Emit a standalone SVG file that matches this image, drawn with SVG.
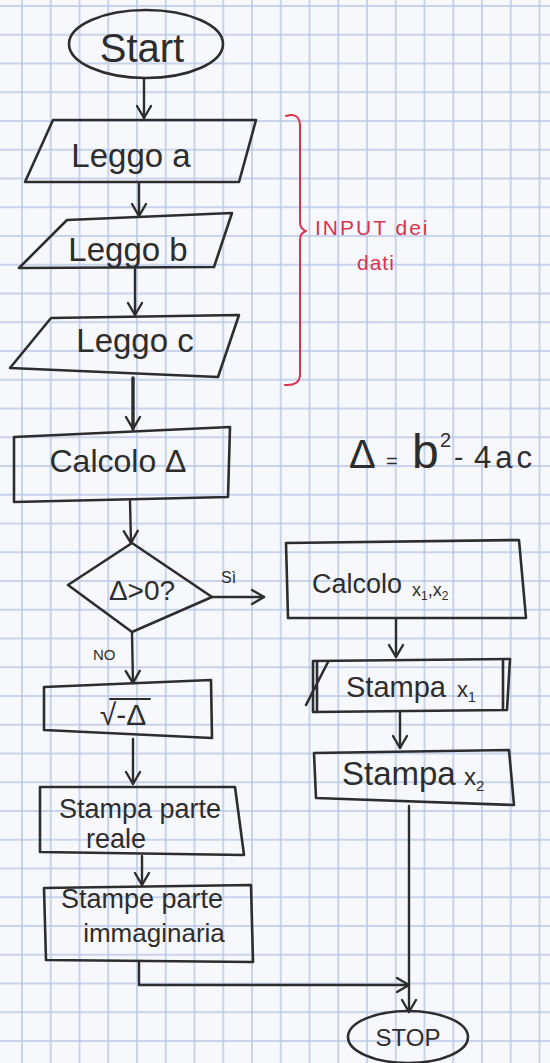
<svg xmlns="http://www.w3.org/2000/svg" width="550" height="1063" viewBox="0 0 550 1063">
<style>
.ln{fill:none;stroke:#2d2d2d;stroke-width:2.6;stroke-linejoin:round;stroke-linecap:round}
.cn{fill:none;stroke:#2d2d2d;stroke-width:2.4;stroke-linecap:round;stroke-linejoin:round}
.t{font-family:"Liberation Sans","DejaVu Sans",sans-serif;fill:#2d2d2d}
.red{font-family:"Liberation Sans","DejaVu Sans",sans-serif;fill:#d9334d}
.rl{fill:none;stroke:#d9334d;stroke-width:2;stroke-linecap:round;stroke-linejoin:round}
</style>
<defs>
<pattern id="grid" x="21" y="5" width="28.75" height="28.75" patternUnits="userSpaceOnUse">
<path d="M0,1 H28.75 M1,0 V28.75" stroke="#b9c7e7" stroke-width="1.5" fill="none"/>
</pattern>
<marker id="ah" markerUnits="userSpaceOnUse" markerWidth="18" markerHeight="18" refX="15" refY="9" orient="auto">
<path d="M3,2 L15,9 L3,16" fill="none" stroke="#2d2d2d" stroke-width="2.4" stroke-linecap="round" stroke-linejoin="round"/>
</marker>
</defs>
<rect x="0" y="0" width="550" height="1063" fill="#f7f8fc"/>
<rect x="0" y="0" width="550" height="1063" fill="url(#grid)"/>

<g id="connectors">
<path class="cn" d="M144,79 L144,118" marker-end="url(#ah)"/>
<path class="cn" d="M139,183 L139,216" marker-end="url(#ah)"/>
<path class="cn" d="M135,269 L135,315" marker-end="url(#ah)"/>
<path class="cn" d="M133,378 L133,429" marker-end="url(#ah)" style="stroke-width:3.4"/>
<path class="cn" d="M130,501 L131,543" marker-end="url(#ah)"/>
<path class="cn" d="M212,597 L264,597" marker-end="url(#ah)"/>
<path class="cn" d="M132,633 L133,683" marker-end="url(#ah)"/>
<path class="cn" d="M396,619 L396,657" marker-end="url(#ah)"/>
<path class="cn" d="M400,711 L400,748" marker-end="url(#ah)"/>
<path class="cn" d="M133,739 L133,784" marker-end="url(#ah)"/>
<path class="cn" d="M142,856 L142,885" marker-end="url(#ah)"/>
<path class="cn" d="M139,962 L139,985 L409,985" marker-end="url(#ah)"/>
<path class="cn" d="M409,806 L409,1012" marker-end="url(#ah)"/>
<text class="t" x="221" y="583" font-size="16">Sì</text>
<text class="t" x="93" y="660" font-size="15">NO</text>
</g>

<g id="start">
<ellipse class="ln" cx="146" cy="44" rx="77" ry="34"/>
<text class="t" x="142" y="62" font-size="40" text-anchor="middle">Start</text>
</g>

<g id="leggo-a">
<polygon class="ln" points="53,120 256,120 239,182 25,182"/>
<text class="t" x="131" y="167" font-size="33" text-anchor="middle">Leggo a</text>
</g>

<g id="leggo-b">
<polygon class="ln" points="67,220 232,213 214,267 19,268"/>
<text class="t" x="128" y="261" font-size="33" text-anchor="middle">Leggo b</text>
</g>

<g id="leggo-c">
<polygon class="ln" points="51,318 239,315 218,377 10,368"/>
<text class="t" x="135" y="352" font-size="33" text-anchor="middle">Leggo c</text>
</g>

<g id="input-note">
<path class="rl" d="M286,116 Q300,112 300,126 L300,222 Q300,229 306,231 Q300,233 300,240 L300,374 Q300,386 285,385"/>
<text class="red" x="315" y="235" font-size="21" letter-spacing="2">INPUT dei</text>
<text class="red" x="357" y="270" font-size="21" letter-spacing="1">dati</text>
</g>

<g id="calcolo-delta">
<polygon class="ln" points="14,437 230,427 228,497 14,502"/>
<text class="t" x="118" y="472" font-size="32" text-anchor="middle">Calcolo Δ</text>
</g>

<g id="formula">
<text class="t" y="468"><tspan x="349" font-size="40">Δ</tspan><tspan x="386" font-size="20">=</tspan><tspan x="412" font-size="48">b</tspan><tspan x="440" y="447" font-size="20">2</tspan><tspan x="454" y="466" font-size="28">-</tspan><tspan x="474" y="468" font-size="31" letter-spacing="4">4ac</tspan></text>
</g>

<g id="decision">
<polygon class="ln" points="132,543 212,597 132,632 68,585"/>
<text class="t" x="142" y="600" font-size="28" text-anchor="middle">Δ&gt;0?</text>
</g>

<g id="calcolo-x">
<polygon class="ln" points="286,543 519,540 526,618 288,618"/>
<text class="t" y="593"><tspan x="312" font-size="27">Calcolo</tspan><tspan x="412" y="596" font-size="18">x</tspan><tspan font-size="12" dy="4">1</tspan><tspan font-size="18" dy="-4">,x</tspan><tspan font-size="12" dy="4">2</tspan></text>
</g>

<g id="stampa-x1">
<polygon class="ln" points="313,661 510,659 507,710 313,712"/>
<path class="ln" d="M317,661 L317,712 M503,660 L503,710 M306,705 L328,662"/>
<text class="t" y="697"><tspan x="346" font-size="29">Stampa</tspan><tspan x="457" font-size="22">x</tspan><tspan font-size="14" dy="5">1</tspan></text>
</g>

<g id="stampa-x2">
<polygon class="ln" points="314,753 509,750 514,805 316,798"/>
<text class="t" y="785"><tspan x="342" font-size="33">Stampa</tspan><tspan x="464" font-size="24">x</tspan><tspan font-size="15" dy="6">2</tspan></text>
</g>

<g id="radice">
<polygon class="ln" points="44,687 211,680 212,738 44,730"/>
<path class="ln" d="M110,699 L150,699" style="stroke-width:2"/>
<text class="t" x="123" y="725" font-size="30" text-anchor="middle">√-Δ</text>
</g>

<g id="parte-reale">
<polygon class="ln" points="40,787 235,787 244,855 40,852"/>
<text class="t" x="140" y="818" font-size="27" text-anchor="middle">Stampa parte</text>
<text class="t" x="116" y="848" font-size="27" text-anchor="middle">reale</text>
</g>

<g id="parte-immaginaria">
<polygon class="ln" points="44,888 251,885 253,962 46,960"/>
<text class="t" x="142" y="908" font-size="27" text-anchor="middle">Stampe parte</text>
<text class="t" x="154" y="942" font-size="26" text-anchor="middle">immaginaria</text>
</g>

<g id="stop">
<ellipse class="ln" cx="408" cy="1037" rx="60" ry="26"/>
<text class="t" x="408" y="1046" font-size="24" text-anchor="middle">STOP</text>
</g>
</svg>
